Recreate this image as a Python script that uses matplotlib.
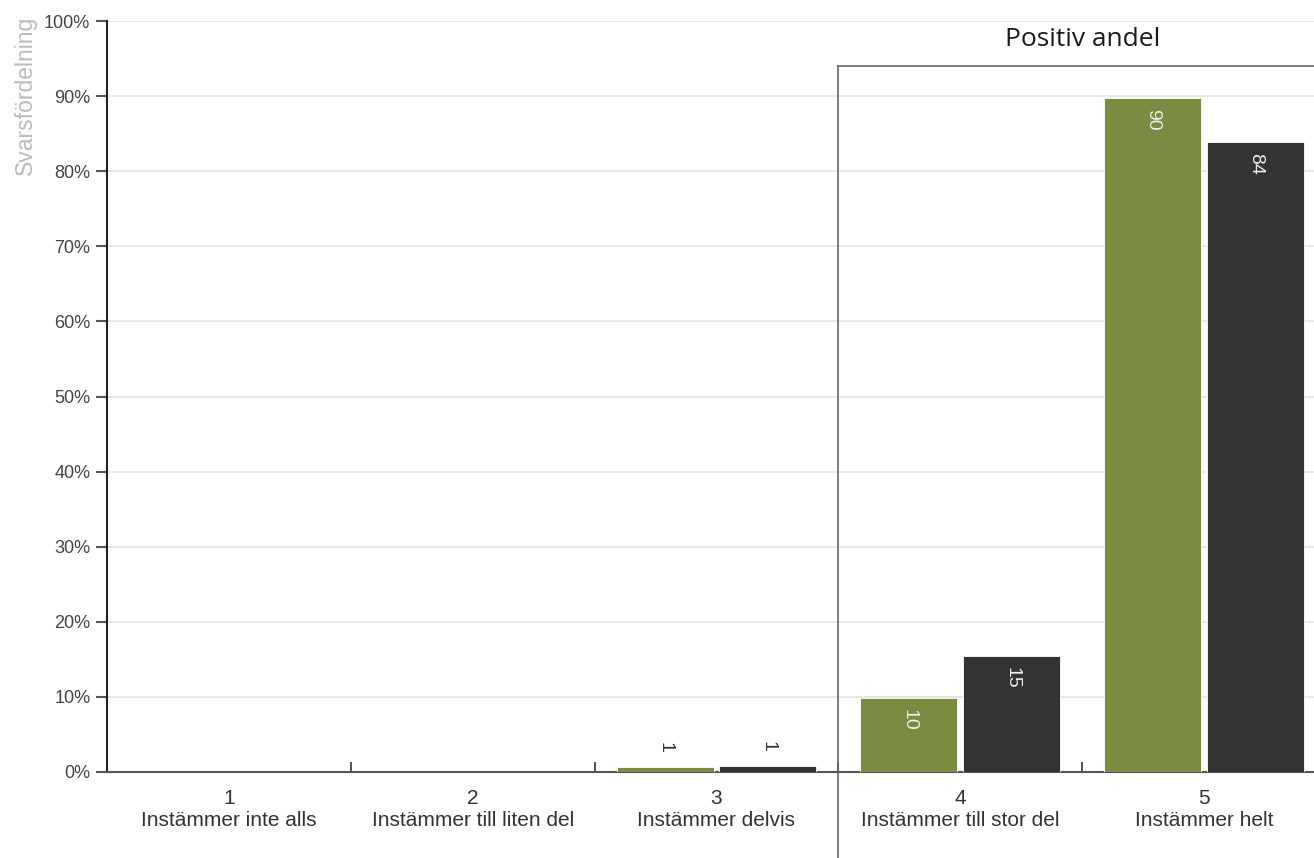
import numpy as np
import matplotlib.pyplot as plt

# svarsfördelning per alternativ (procent)
categories = ['1\nInstämmer inte alls', '2\nInstämmer till liten del', '3\nInstämmer delvis',
              '4\nInstämmer till stor del', '5\nInstämmer helt']
green_vals = [0, 0, 0.7, 9.9, 89.7]
dark_vals = [0, 0, 0.8, 15.5, 83.9]
green_labels = ['', '', '1', '10', '90']
dark_labels = ['', '', '1', '15', '84']
yticks = np.arange(0, 101, 10)

GREEN = '#7a8c42'
DARK = '#333333'

plt.rcParams['font.family'] = ['Liberation Sans', 'DejaVu Sans']

fig = plt.figure(figsize=(13.14, 8.58), dpi=100)
ax = fig.add_axes([107 / 1314, 86 / 858, 1 - 107 / 1314, 751 / 858])

x = np.arange(len(categories))
w = 0.398
off = 0.211
gb = ax.bar(x - off, green_vals, w, color=GREEN, edgecolor='white', linewidth=0.6, zorder=3)
db = ax.bar(x + off, dark_vals, w, color=DARK, edgecolor='white', linewidth=0.6, zorder=3)

for bars, labels in [(gb, green_labels), (db, dark_labels)]:
    for b, lab in zip(bars, labels):
        if not lab:
            continue
        cx = b.get_x() + b.get_width() / 2
        h = b.get_height()
        if h > 5:
            ax.annotate(lab, (cx, h), xytext=(0, -8), textcoords='offset points',
                        rotation=-90, ha='center', va='top', color='#eeeeee', fontsize=14, zorder=4)
        else:
            ax.annotate(lab, (cx, h), xytext=(0, 10), textcoords='offset points',
                        rotation=-90, ha='center', va='bottom', color='#333333', fontsize=14, zorder=4)

ax.set_xlim(-0.5, 4.5 - 12 / 244)
ax.set_ylim(0, 100)
ax.set_yticks(yticks)
ax.set_yticklabels([f'{v}%' for v in yticks], fontsize=13, color='#444444')
ax.yaxis.grid(True, color='#e8e8e8', linewidth=1.5, zorder=0)
ax.set_axisbelow(True)

ax.set_xticks([0.5, 1.5, 2.5, 3.5])
ax.set_xticklabels([])
ax.set_xticks(x, minor=True)
ax.set_xticklabels(categories, minor=True, fontsize=15, color='#333333', linespacing=1.25)
ax.tick_params(axis='x', which='major', direction='in', length=7, width=1.2, color='#333333')
ax.tick_params(axis='x', which='minor', length=0, pad=12)
ax.tick_params(axis='y', direction='out', length=8, width=1.5, color='#555555', pad=4)

for s in ['top', 'right']:
    ax.spines[s].set_visible(False)
ax.spines['left'].set_color('#222222')
ax.spines['left'].set_linewidth(1.5)
ax.spines['bottom'].set_color('#555555')
ax.spines['bottom'].set_linewidth(1.5)

# ram för positiv andel
ax.plot([2.5, 2.5], [-12, 94], color='#666666', lw=1.2, clip_on=False, zorder=5)
ax.plot([2.5, 5], [94, 94], color='#666666', lw=1.2, clip_on=False, zorder=5)
ax.text(3.5, 96.7, 'Positiv andel', ha='center', va='baseline', fontsize=19,
        family='Open Sans', color='#1a1a1a')

fig.text(25 / 1314, 1 - 16 / 858, 'Svarsfördelning', rotation=90, ha='center', va='top',
         fontsize=16.5, color='#bbbbbb')

fig.savefig('out.png', dpi=100)
